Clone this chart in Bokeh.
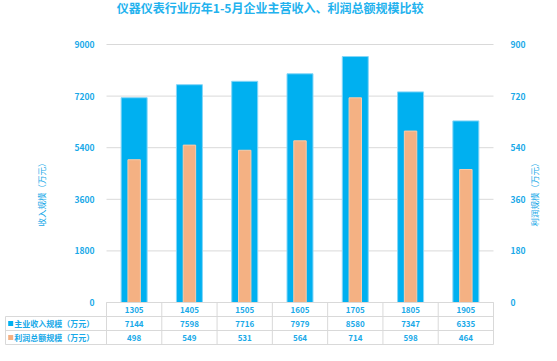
import math
from bokeh.plotting import figure
from bokeh.models import Range1d, LinearAxis, FixedTicker
from bokeh.embed import file_html
from bokeh.resources import INLINE
from bokeh.core.properties import value

# ---------------- data ----------------
categories = ["1305", "1405", "1505", "1605", "1705", "1805", "1905"]
revenue = [7144, 7598, 7716, 7979, 8580, 7347, 6335]
profit = [498, 549, 531, 564, 714, 598, 464]
left_ticks = [0, 1800, 3600, 5400, 7200, 9000]
right_ticks = [0, 180, 360, 540, 720, 900]
title_text = "仪器仪表行业历年1-5月企业主营收入、利润总额规模比较"
left_title = "收入规模（万元）"
right_title = "利润规模（万元）"
series_names = ["主业收入规模（万元）", "利润总额规模（万元）"]

# ---------------- style / layout (pixels) ----------------
FONT = "Noto Sans CJK SC"
BLUE = "#00B0F0"
ORANGE = "#F4B183"
TXT = "#19A9E8"
TITLE = "#22B2EE"
GRID = "#D9D9D9"

W, H = 541, 345
FL, FW = 106, 387          # plot area left / width
TOP, Y0 = 44, 302          # pixel rows of the top tick and of zero
ROWS = [302, 316, 330, 344]  # table row borders
LEG_L = 5                  # left edge of the table legend column

n = len(categories)
pxu = FW / n
ppy = (Y0 - TOP) / left_ticks[-1]
ratio = right_ticks[-1] / left_ticks[-1]

def fx(px):
    return (px - FL) / pxu

def fy(py):
    return (Y0 - py) / ppy

xs = [i + 0.5 for i in range(n)]

p = figure(width=W, height=H, x_range=Range1d(fx(0), fx(W)), y_range=Range1d(fy(H), fy(0)),
           output_backend="svg", toolbar_location=None,
           x_axis_location=None, y_axis_location=None, min_border=0)
p.min_border_left = p.min_border_right = p.min_border_top = p.min_border_bottom = 0
p.outline_line_color = None
p.background_fill_color = "white"
p.border_fill_color = "white"
p.grid.visible = False
p.extra_y_ranges = {"profit": Range1d(fy(H) * ratio, fy(0) * ratio)}

# horizontal grid lines at the tick values
p.segment(x0=[0] * len(left_ticks), y0=left_ticks, x1=[n] * len(left_ticks), y1=left_ticks,
          line_color=GRID, line_width=1)

# bars
p.vbar(x=xs, top=revenue, bottom=0, width=0.47, fill_color=BLUE, line_color="#86D6F7", line_width=1)
p.vbar(x=xs, top=profit, bottom=0, width=0.225, y_range_name="profit",
       fill_color=ORANGE, line_color="#F8CBAA", line_width=1)

# axes (fixed at the plot-area edges)
def style_axis(ax, standoff):
    ax.axis_line_color = None
    ax.major_tick_line_color = None
    ax.minor_tick_line_color = None
    ax.major_label_text_color = TXT
    ax.major_label_text_font = FONT
    ax.major_label_text_font_size = "8.5px"
    ax.major_label_text_font_style = "bold"
    ax.major_label_standoff = standoff

la = LinearAxis(ticker=FixedTicker(ticks=left_ticks), fixed_location=0)
style_axis(la, 6)
p.add_layout(la, "left")
ra = LinearAxis(y_range_name="profit", ticker=FixedTicker(ticks=right_ticks), fixed_location=n)
style_axis(ra, 11)
p.add_layout(ra, "right")

# axis titles
mid = fy((TOP + Y0) / 2 + 19)
p.text(x=[fx(40), fx(533)], y=[mid, mid], text=[left_title, right_title], angle=math.pi / 2,
       text_align="center", text_baseline="middle", text_font=value(FONT),
       text_font_size="8.5px", text_color=TXT)

# chart title
p.text(x=[fx(269.6)], y=[fy(6.5)], text=[title_text], text_align="center", text_baseline="middle",
       text_font=value(FONT), text_font_size="12px", text_font_style="bold", text_color=TITLE)

# ---------------- data table ----------------
yr = [fy(r) for r in ROWS]
xl = fx(LEG_L)
# horizontal borders
p.segment(x0=[0] + [xl] * 3, y0=yr, x1=[n] * 4, y1=yr, line_color=GRID, line_width=1)
# vertical borders: category row (plot columns only) and series rows (with legend column)
vx = list(range(0, n + 1))
p.segment(x0=vx, y0=[yr[0]] * len(vx), x1=vx, y1=[yr[3]] * len(vx), line_color=GRID, line_width=1)
p.segment(x0=[xl], y0=[yr[1]], x1=[xl], y1=[yr[3]], line_color=GRID, line_width=1)

cy = [fy((ROWS[i] + ROWS[i + 1]) / 2) for i in range(3)]
p.text(x=xs, y=[cy[0]] * n, text=categories, text_align="center", text_baseline="middle",
       text_font=value(FONT), text_font_size="8px", text_font_style="bold", text_color=TXT)
p.scatter(x=[fx(10.2)] * 2, y=cy[1:], marker="square", size=5,
          fill_color=[BLUE, ORANGE], line_color=None)
p.text(x=[fx(13.7)] * 2, y=cy[1:], text=series_names, text_align="left",
       text_baseline="middle", text_font=value(FONT), text_font_size="8px",
       text_font_style="bold", text_color=TXT)
p.text(x=xs + xs, y=[cy[1]] * n + [cy[2]] * n,
       text=[str(v) for v in revenue] + [str(v) for v in profit],
       text_align="center", text_baseline="middle", text_font=value(FONT),
       text_font_size="8px", text_font_style="bold", text_color=TXT)

open("out.html", "w").write(file_html(p, INLINE))
